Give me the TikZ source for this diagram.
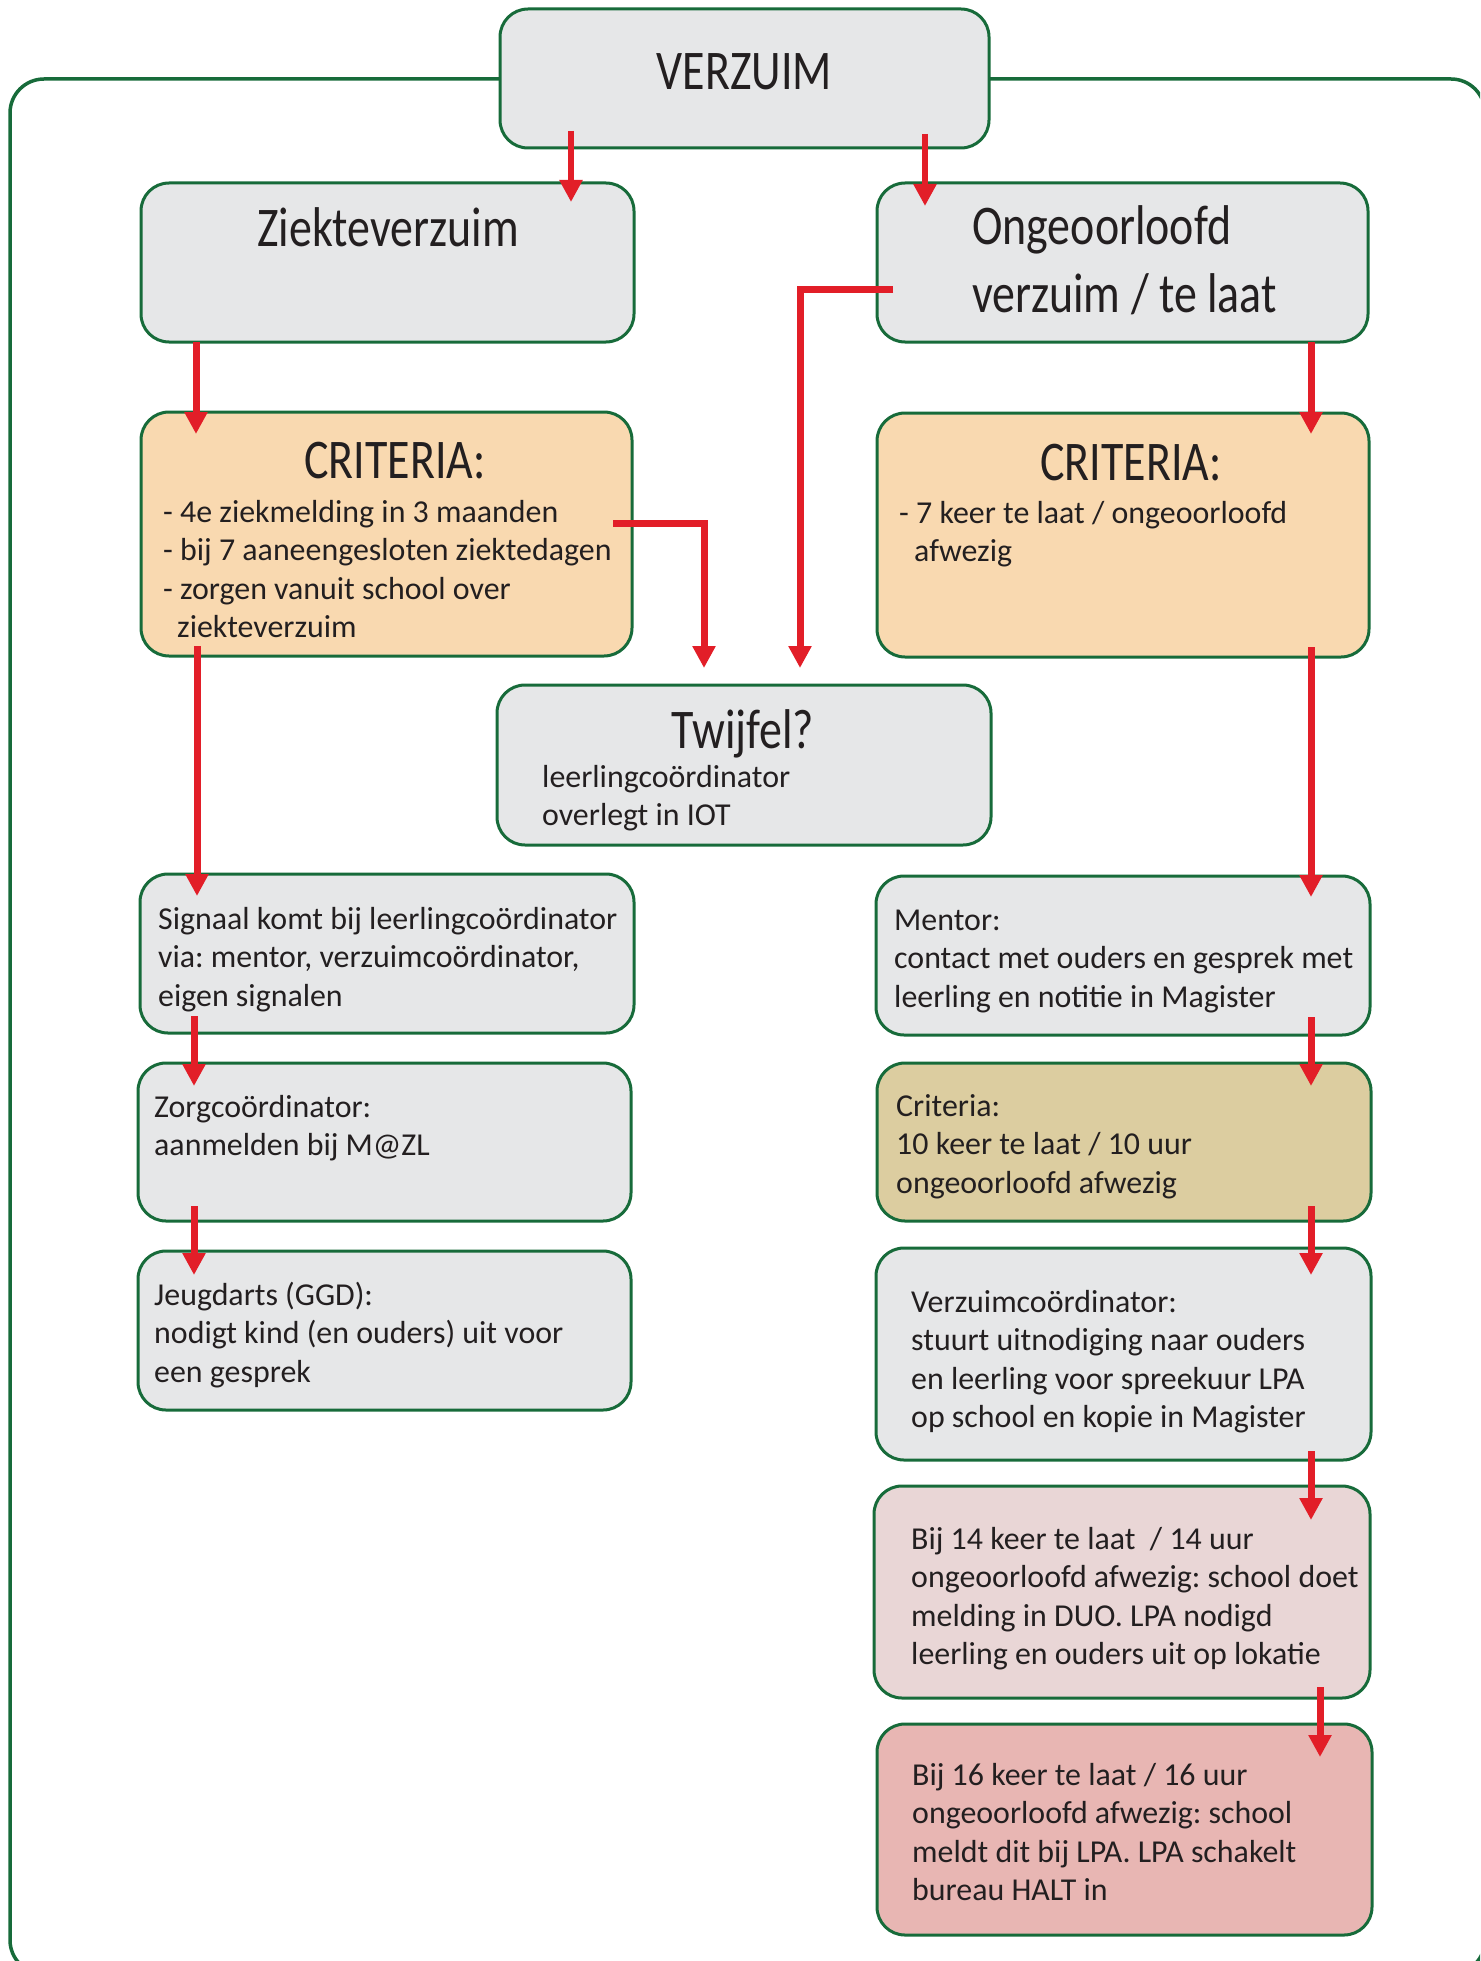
\documentclass[tikz,border=0pt]{standalone}
\usepackage{fontspec}
\setmainfont{Carlito}
\newfontfamily\titlefont[FakeStretch=0.82]{Carlito}
\usetikzlibrary{arrows.meta,calc}
\frenchspacing
\definecolor{frgreen}{RGB}{23,107,58}
\definecolor{arrred}{RGB}{226,30,40}
\definecolor{boxgray}{RGB}{230,231,232}
\definecolor{peach}{RGB}{249,217,176}
\definecolor{olivebox}{RGB}{220,205,160}
\definecolor{lpink}{RGB}{233,214,214}
\definecolor{dpink}{RGB}{232,182,179}
\definecolor{txt}{RGB}{35,31,32}
\newcommand{\boxlines}[1]{\begin{tabular}[t]{@{}l@{}}#1\end{tabular}}
\tikzset{
 box/.style={rectangle, draw=frgreen, line width=3pt, rounded corners=28pt, inner sep=0pt, outer sep=0pt, anchor=north west},
 body/.style={anchor=base west, inner sep=0pt, text=txt, font=\fontsize{31.9}{38.5}\selectfont},
 ttl/.style={anchor=base, inner sep=0pt, text=txt, font=\titlefont\fontsize{56}{68}\selectfont},
 arr/.style={draw=arrred, line width=7pt, -{Triangle[width=22pt,length=22pt]}},
 framebox/.style={draw=frgreen, line width=3.5pt, rounded corners=34pt},
}
\begin{document}
\begin{tikzpicture}[x=1pt,y=-1pt]
\useasboundingbox (0,0) rectangle (1480,1961);
% outer frame (runs past the right and bottom edges)
\begin{scope}
\clip (0,0) rectangle (1480,1961);
\draw[framebox] (10,79) rectangle (1485,1974);
\end{scope}

% boxes
\node[box, fill=boxgray, minimum width=489pt, minimum height=139pt] (verz) at (500,9) {};
\node[box, fill=boxgray, minimum width=493pt, minimum height=159pt] (ziek) at (141,183) {};
\node[box, fill=boxgray, minimum width=491pt, minimum height=159pt] (ong) at (877,183) {};
\node[box, fill=peach, minimum width=491pt, minimum height=244pt] (critL) at (141,412) {};
\node[box, fill=peach, minimum width=492pt, minimum height=244pt] (critR) at (877,413) {};
\node[box, fill=boxgray, minimum width=494pt, minimum height=160pt] (twijf) at (497,685) {};
\node[box, fill=boxgray, minimum width=494pt, minimum height=159pt] (sig) at (140,874) {};
\node[box, fill=boxgray, minimum width=493pt, minimum height=158pt] (zorg) at (138,1063) {};
\node[box, fill=boxgray, minimum width=493pt, minimum height=159pt] (jeugd) at (138,1251) {};
\node[box, fill=boxgray, minimum width=494pt, minimum height=159pt] (ment) at (876,876) {};
\node[box, fill=olivebox, minimum width=494pt, minimum height=158pt] (olive) at (877,1063) {};
\node[box, fill=boxgray, minimum width=495pt, minimum height=212pt] (vzc) at (876,1248) {};
\node[box, fill=lpink, minimum width=496pt, minimum height=212pt] (b14) at (874,1486) {};
\node[box, fill=dpink, minimum width=495pt, minimum height=211pt] (b16) at (877,1724) {};

% titles
\node[ttl] (verzT) at (744.5,90) {VERZUIM};
\node[ttl] (ziekT) at (388,247) {Ziekteverzuim};
\node[ttl, anchor=base west] (ongT) at (972,245) {\boxlines{Ongeoorloofd\\verzuim / te laat}};
\node[ttl] (critLT) at (395,478) {CRITERIA:};
\node[ttl] (critRT) at (1131,480) {CRITERIA:};
\node[ttl] (twijfT) at (743,748) {Twijfel?};

% body texts
\node[body] (critLB) at (163,522) {\boxlines{- 4e ziekmelding in 3 maanden\\- bij 7 aaneengesloten ziektedagen\\- zorgen vanuit school over\\\hspace*{14pt}ziekteverzuim}};
\node[body] (critRB) at (899,523) {\boxlines{- 7 keer te laat / ongeoorloofd\\\hspace*{15pt}afwezig}};
\node[body] (twijfB) at (542,787) {\boxlines{leerlingco\"ordinator\\overlegt in IOT}};
\node[body] (sigB) at (158,929) {\boxlines{Signaal komt bij leerlingco\"ordinator\\via: mentor, verzuimco\"ordinator,\\eigen signalen}};
\node[body] (zorgB) at (154,1117) {\boxlines{Zorgco\"ordinator:\\aanmelden bij M@ZL}};
\node[body] (jeugdB) at (154,1305) {\boxlines{Jeugdarts (GGD):\\nodigt kind (en ouders) uit voor\\een gesprek}};
\node[body] (mentB) at (894,930) {\boxlines{Mentor:\\contact met ouders en gesprek met\\leerling en notitie in Magister}};
\node[body] (oliveB) at (896,1116) {\boxlines{Criteria:\\10 keer te laat / 10 uur\\ongeoorloofd afwezig}};
\node[body] (vzcB) at (911,1312) {\boxlines{Verzuimco\"ordinator:\\stuurt uitnodiging naar ouders\\en leerling voor spreekuur LPA\\op school en kopie in Magister}};
\node[body] (b14B) at (911,1549) {\boxlines{Bij 14 keer te laat\ \ / 14 uur\\ongeoorloofd afwezig: school doet\\melding in DUO. LPA nodigd\\leerling en ouders uit op lokatie}};
\node[body] (b16B) at (912,1785) {\boxlines{Bij 16 keer te laat / 16 uur\\ongeoorloofd afwezig: school\\meldt dit bij LPA. LPA schakelt\\bureau HALT in}};

% arrows
\draw[arr, line width=6.5pt] ($(verz.north west)+(71,122)$) -- ($(ziek.north west)+(430,19)$);
\draw[arr, line width=6.5pt] ($(verz.north west)+(425,125)$) -- ($(ong.north west)+(48,23)$);
\draw[arr] ($(ziek.north west)+(55,159)$) -- ($(critL.north west)+(55,22)$);
\draw[arr] ($(ong.north west)+(434,159)$) -- ($(critR.north west)+(434,21)$);
\draw[arr] ($(critL.north west)+(472,111)$) -| ($(twijf.north west)+(207,-17)$);
\draw[arr] ($(ong.north west)+(16,106)$) -| ($(twijf.north west)+(303,-17)$);
\draw[arr] ($(critL.north west)+(56,234)$) -- ($(sig.north west)+(57,22)$);
\draw[arr] ($(critR.north west)+(434,234)$) -- ($(ment.north west)+(435,21)$);
\draw[arr] ($(sig.north west)+(54,142)$) -- ($(zorg.north west)+(56,23)$);
\draw[arr] ($(zorg.north west)+(56,143)$) -- ($(jeugd.north west)+(56,24)$);
\draw[arr] ($(ment.north west)+(435,141)$) -- ($(olive.north west)+(434,23)$);
\draw[arr] ($(olive.north west)+(434,143)$) -- ($(vzc.north west)+(435,27)$);
\draw[arr] ($(vzc.north west)+(435,203)$) -- ($(b14.north west)+(437,34)$);
\draw[arr] ($(b14.north west)+(446,201)$) -- ($(b16.north west)+(443,33)$);
\end{tikzpicture}
\end{document}
